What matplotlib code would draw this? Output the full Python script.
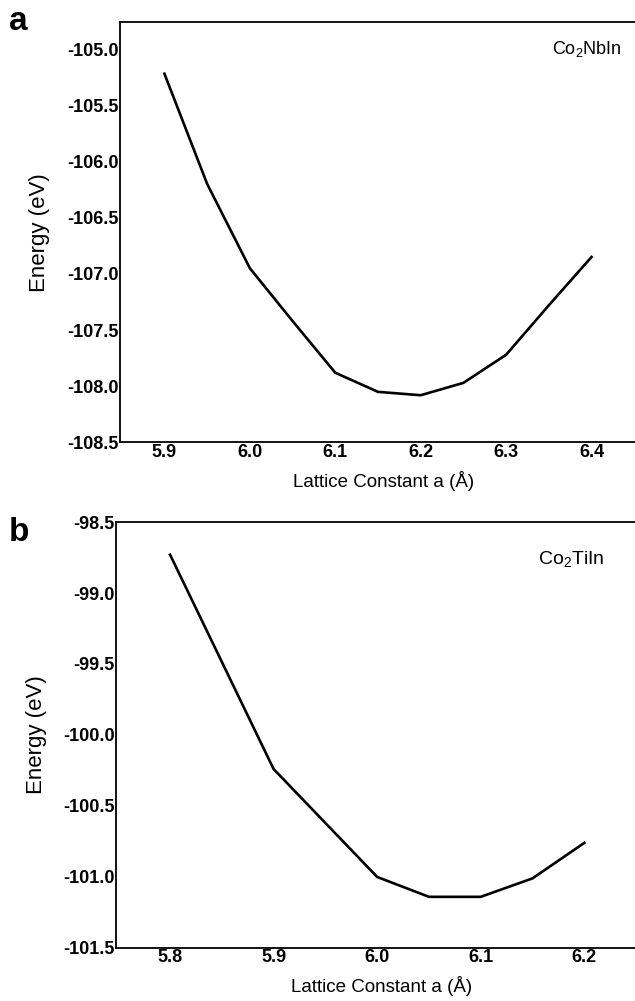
import matplotlib
matplotlib.use("Agg")
import matplotlib.pyplot as plt

plt.rcParams["font.family"] = ["Liberation Sans", "DejaVu Sans"]
plt.rcParams["mathtext.fontset"] = "custom"
plt.rcParams["mathtext.rm"] = "Liberation Sans"

# Panel a: Co2NbIn
a_lattice = [5.90, 5.95, 6.00, 6.05, 6.10, 6.15, 6.20, 6.25, 6.30, 6.35, 6.40]
a_energy = [-105.22, -106.20, -106.95, -107.42, -107.88, -108.05, -108.08,
            -107.97, -107.72, -107.28, -106.85]
a_xticks = [5.9, 6.0, 6.1, 6.2, 6.3, 6.4]
a_yticks = [-105.0, -105.5, -106.0, -106.5, -107.0, -107.5, -108.0, -108.5]

# Panel b: Co2TiIn
b_lattice = [5.80, 5.90, 5.95, 6.00, 6.05, 6.10, 6.15, 6.20]
b_energy = [-98.73, -100.24, -100.62, -101.00, -101.14, -101.14, -101.01, -100.76]
b_xticks = [5.8, 5.9, 6.0, 6.1, 6.2]
b_yticks = [-98.5, -99.0, -99.5, -100.0, -100.5, -101.0, -101.5]

fig = plt.figure(figsize=(6.35, 10.01), dpi=100)


def style_axes(ax, xticks, yticks):
    ax.set_xticks(xticks)
    ax.set_yticks(yticks)
    ax.set_xticklabels([f"{t:.1f}" for t in xticks], fontweight="bold", fontsize=13)
    ax.set_yticklabels([f"{t:.1f}" for t in yticks], fontweight="bold", fontsize=13)
    ax.tick_params(length=0, pad=1)
    ax.spines["right"].set_visible(False)
    for s in ["left", "top", "bottom"]:
        ax.spines[s].set_linewidth(1.3)
    ax.set_xlabel("Lattice Constant a (Å)", fontsize=13.5, labelpad=7)
    ax.set_ylabel("Energy (eV)", fontsize=16, labelpad=12)


ax1 = fig.add_axes([0.189, 0.558, 0.83, 0.42])
ax1.plot(a_lattice, a_energy, color="black", lw=1.9)
ax1.set_xlim(5.848, 6.465)
ax1.set_ylim(-108.5, -104.76)
style_axes(ax1, a_xticks, a_yticks)
ax1.text(0.82, 0.935, r"Co$_2$NbIn", transform=ax1.transAxes, fontsize=13, va="center")
fig.text(0.014, 0.979, "a", fontsize=24, fontweight="bold", va="center")

ax2 = fig.add_axes([0.183, 0.053, 0.835, 0.4255])
ax2.plot(b_lattice, b_energy, color="black", lw=1.9)
ax2.set_xlim(5.748, 6.26)
ax2.set_ylim(-101.5, -98.5)
style_axes(ax2, b_xticks, b_yticks)
ax2.text(0.795, 0.911, r"Co$_2$TiIn", transform=ax2.transAxes, fontsize=14, va="center")
fig.text(0.014, 0.4685, "b", fontsize=24, fontweight="bold", va="center")

fig.savefig("out.png", dpi=100)
